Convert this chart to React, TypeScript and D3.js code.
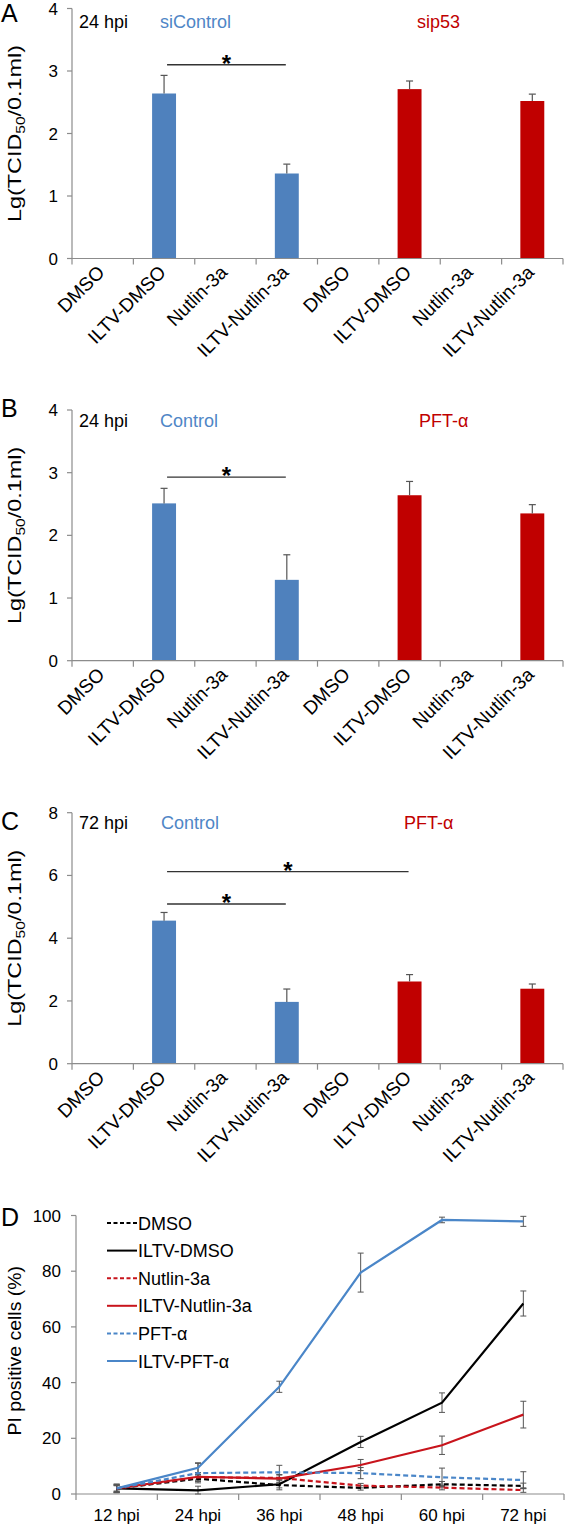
import React from "react";
import * as d3 from "d3";

// ---------- data ----------
const barCategories = [
  "DMSO", "ILTV-DMSO", "Nutlin-3a", "ILTV-Nutlin-3a",
  "DMSO", "ILTV-DMSO", "Nutlin-3a", "ILTV-Nutlin-3a",
];
const barGroup = [0, 0, 0, 0, 1, 1, 1, 1];

const panelAValues = [0, 2.64, 0, 1.36, 0, 2.71, 0, 2.52];
const panelAErrors = [0, 0.29, 0, 0.15, 0, 0.13, 0, 0.11];
const panelBValues = [0, 2.51, 0, 1.29, 0, 2.64, 0, 2.35];
const panelBErrors = [0, 0.24, 0, 0.4, 0, 0.22, 0, 0.14];
const panelCValues = [0, 4.56, 0, 1.97, 0, 2.62, 0, 2.39];
const panelCErrors = [0, 0.26, 0, 0.41, 0, 0.22, 0, 0.15];

const panelATicks = [0, 1, 2, 3, 4];
const panelBTicks = [0, 1, 2, 3, 4];
const panelCTicks = [0, 2, 4, 6, 8];

// significance brackets: [fromIndex, toIndex, yValue]
const panelASig = [[1, 3, 3.1]];
const panelBSig = [[1, 3, 2.93]];
const panelCSig = [[1, 5, 6.12], [1, 3, 5.09]];

const timepoints = ["12 hpi", "24 hpi", "36 hpi", "48 hpi", "60 hpi", "72 hpi"];
const lineSeriesNames = ["DMSO", "ILTV-DMSO", "Nutlin-3a", "ILTV-Nutlin-3a", "PFT-α", "ILTV-PFT-α"];
const dmsoValues = [2.0, 5.5, 3.2, 2.2, 3.5, 2.9];
const dmsoErrors = [1.0, 1.0, 1.0, 0.8, 1.0, 1.0];
const iltvDmsoValues = [2.0, 1.3, 3.5, 18.7, 32.8, 68.4];
const iltvDmsoErrors = [1.5, 1.5, 2.0, 2.0, 3.5, 4.5];
const nutlinValues = [2.0, 6.0, 5.8, 3.0, 2.3, 1.4];
const nutlinErrors = [1.0, 1.0, 1.0, 0.8, 0.8, 0.8];
const iltvNutlinValues = [2.0, 6.2, 5.5, 10.4, 17.5, 28.5];
const iltvNutlinErrors = [1.2, 1.5, 1.5, 2.0, 3.3, 4.8];
const pftValues = [2.0, 7.5, 7.8, 7.5, 6.0, 5.0];
const pftErrors = [1.5, 3.5, 2.5, 2.0, 3.3, 3.0];
const iltvPftValues = [2.0, 9.4, 38.5, 79.5, 98.4, 97.9];
const iltvPftErrors = [1.5, 1.8, 2.0, 7.0, 1.0, 1.8];
const lineTicks = [0, 20, 40, 60, 80, 100];

// ---------- styles ----------
const FONT = "'Liberation Sans', Arial, Helvetica, sans-serif";
const AXIS = "#8c8c8c";
const BLUE_BAR = "#4f81bd";
const RED_BAR = "#c00000";
const BLUE_TEXT = "#4f86c6";
const RED_TEXT = "#c00000";
const BLUE_LINE = "#4a86c8";
const RED_LINE = "#c8141c";
const ERR = "#555";

const X0 = 72;
const X1 = 563;

type BarPanelProps = {
  letter: string;
  letterY: number;
  hpi: string;
  groupLabels: [string, string];
  groupX: [number, number];
  values: number[];
  errors: number[];
  ticks: number[];
  sig: number[][];
  yTop: number;
  yBottom: number;
  textY: number;
};

function BarPanel(p: BarPanelProps) {
  const yMax = p.ticks[p.ticks.length - 1];
  const y = d3.scaleLinear().domain([0, yMax]).range([p.yBottom, p.yTop]);
  const x = d3
    .scaleBand<number>()
    .domain(barCategories.map((_, i) => i))
    .range([X0, X1])
    .paddingInner(0.61)
    .paddingOuter(0.305);
  const step = x.step();
  const bw = x.bandwidth();
  const cx = (i: number) => (x(i) as number) + bw / 2;
  const boundaries = d3.range(barCategories.length + 1).map((i) => X0 + i * step);
  const midY = (p.yTop + p.yBottom) / 2;
  return (
    <g>
      <text x={1} y={p.letterY} fontSize={25} fontFamily={FONT}>{p.letter}</text>
      <text
        transform={`translate(21,${midY}) rotate(-90) scale(1.3,1)`}
        textAnchor="middle"
        fontSize={18}
        fontFamily={FONT}
      >
        Lg(TCID
        <tspan fontSize={12} dy={4}>50</tspan>
        <tspan dy={-4}>/0.1ml)</tspan>
      </text>
      {/* y axis */}
      <line x1={X0} x2={X0} y1={p.yTop} y2={p.yBottom} stroke={AXIS} strokeWidth={1.2} />
      {p.ticks.map((t) => (
        <g key={t}>
          <line x1={X0 - 5} x2={X0} y1={y(t)} y2={y(t)} stroke={AXIS} strokeWidth={1.2} />
          <text x={58} y={y(t) + 6} textAnchor="end" fontSize={17} fontFamily={FONT}>{t}</text>
        </g>
      ))}
      {/* bars */}
      {p.values.map((v, i) =>
        v > 0 ? (
          <g key={i}>
            <rect
              x={x(i)}
              y={y(v)}
              width={bw}
              height={y(0) - y(v)}
              fill={barGroup[i] === 0 ? BLUE_BAR : RED_BAR}
            />
            <line x1={cx(i)} x2={cx(i)} y1={y(v)} y2={y(v + p.errors[i])} stroke={ERR} strokeWidth={1.2} />
            <line x1={cx(i) - 3.5} x2={cx(i) + 3.5} y1={y(v + p.errors[i])} y2={y(v + p.errors[i])} stroke={ERR} strokeWidth={1.2} />
          </g>
        ) : null
      )}
      {/* x axis */}
      <line x1={X0} x2={X1} y1={p.yBottom} y2={p.yBottom} stroke={AXIS} strokeWidth={1.2} />
      {boundaries.map((b, i) => (
        <line key={i} x1={b} x2={b} y1={p.yBottom} y2={p.yBottom + 6} stroke={AXIS} strokeWidth={1.2} />
      ))}
      {barCategories.map((c, i) => (
        <text
          key={i}
          transform={`translate(${cx(i) + 3},${p.yBottom + 15}) rotate(-45)`}
          textAnchor="end"
          fontSize={19}
          fontFamily={FONT}
        >
          {c}
        </text>
      ))}
      {/* significance */}
      {p.sig.map(([a, b, v], k) => (
        <g key={k}>
          <line x1={cx(a) + 3} x2={cx(b) - 1} y1={y(v)} y2={y(v)} stroke="#333" strokeWidth={1.3} />
          <text
            x={(cx(a) + cx(b)) / 2 + 1}
            y={y(v) + 7}
            textAnchor="middle"
            fontSize={24}
            fontWeight="bold"
            fontFamily={FONT}
          >
            *
          </text>
        </g>
      ))}
      <text x={79} y={p.textY} fontSize={18} fontFamily={FONT}>{p.hpi}</text>
      <text x={p.groupX[0]} y={p.textY} fontSize={18} fontFamily={FONT} fill={BLUE_TEXT}>{p.groupLabels[0]}</text>
      <text x={p.groupX[1]} y={p.textY} fontSize={18} fontFamily={FONT} fill={RED_TEXT}>{p.groupLabels[1]}</text>
    </g>
  );
}

function LinePanel() {
  const LX0 = 76;
  const LX1 = 564;
  const yTop = 1215.5;
  const yBottom = 1494;
  const x = d3.scaleBand<string>().domain(timepoints).range([LX0, LX1]);
  const cx = (t: string) => (x(t) as number) + x.bandwidth() / 2;
  const y = d3.scaleLinear().domain([0, 100]).range([yBottom, yTop]);
  const series = [
    { name: lineSeriesNames[0], values: dmsoValues, errors: dmsoErrors, color: "#000", dash: "5,3" },
    { name: lineSeriesNames[1], values: iltvDmsoValues, errors: iltvDmsoErrors, color: "#000", dash: "" },
    { name: lineSeriesNames[2], values: nutlinValues, errors: nutlinErrors, color: RED_LINE, dash: "5,3" },
    { name: lineSeriesNames[3], values: iltvNutlinValues, errors: iltvNutlinErrors, color: RED_LINE, dash: "" },
    { name: lineSeriesNames[4], values: pftValues, errors: pftErrors, color: BLUE_LINE, dash: "5,3" },
    { name: lineSeriesNames[5], values: iltvPftValues, errors: iltvPftErrors, color: BLUE_LINE, dash: "" },
  ];
  const line = d3
    .line<number>()
    .x((_, i) => cx(timepoints[i]))
    .y((v) => y(v));
  const boundaries = d3.range(timepoints.length + 1).map((i) => LX0 + i * x.step());
  const legendY0 = 1223;
  const legendStep = 27.6;
  return (
    <g>
      <text x={1} y={yTop + 10} fontSize={25} fontFamily={FONT}>D</text>
      <text
        transform={`translate(21,${(yTop + yBottom) / 2 - 4}) rotate(-90) scale(1.08,1)`}
        textAnchor="middle"
        fontSize={18}
        fontFamily={FONT}
      >
        PI positive cells (%)
      </text>
      <line x1={LX0} x2={LX0} y1={yTop} y2={yBottom} stroke={AXIS} strokeWidth={1.2} />
      {lineTicks.map((t) => (
        <g key={t}>
          <line x1={LX0 - 5} x2={LX0} y1={y(t)} y2={y(t)} stroke={AXIS} strokeWidth={1.2} />
          <text x={61} y={y(t) + 6} textAnchor="end" fontSize={17} fontFamily={FONT}>{t}</text>
        </g>
      ))}
      <line x1={LX0} x2={LX1} y1={yBottom} y2={yBottom} stroke={AXIS} strokeWidth={1.2} />
      {boundaries.map((b, i) => (
        <line key={i} x1={b} x2={b} y1={yBottom} y2={yBottom + 6} stroke={AXIS} strokeWidth={1.2} />
      ))}
      {timepoints.map((t) => (
        <text key={t} x={cx(t)} y={yBottom + 27} textAnchor="middle" fontSize={17} fontFamily={FONT}>{t}</text>
      ))}
      {series.map((s) => (
        <g key={s.name}>
          {s.values.map((v, i) => {
            const xx = cx(timepoints[i]);
            const lo = y(Math.max(0, v - s.errors[i]));
            const hi = y(v + s.errors[i]);
            return (
              <g key={i}>
                <line x1={xx} x2={xx} y1={lo} y2={hi} stroke={ERR} strokeWidth={1} />
                <line x1={xx - 3} x2={xx + 3} y1={lo} y2={lo} stroke={ERR} strokeWidth={1} />
                <line x1={xx - 3} x2={xx + 3} y1={hi} y2={hi} stroke={ERR} strokeWidth={1} />
              </g>
            );
          })}
        </g>
      ))}
      {series.map((s) => (
        <path
          key={s.name}
          d={line(s.values) as string}
          fill="none"
          stroke={s.color}
          strokeWidth={2.2}
          strokeDasharray={s.dash || undefined}
        />
      ))}
      {series.map((s, i) => (
        <g key={s.name}>
          <line
            x1={107}
            x2={137}
            y1={legendY0 + i * legendStep}
            y2={legendY0 + i * legendStep}
            stroke={s.color}
            strokeWidth={2}
            strokeDasharray={s.dash ? "4,2.5" : undefined}
          />
          <text x={138} y={legendY0 + i * legendStep + 6.5} fontSize={18} fontFamily={FONT}>{s.name}</text>
        </g>
      ))}
    </g>
  );
}

export default function App() {
  return (
    <svg
      width={566}
      height={1526}
      viewBox="0 0 566 1526"
      style={{ position: "absolute", left: 0, top: 0, background: "#fff" }}
    >
      <rect x={0} y={0} width={566} height={1526} fill="#fff" />
      <BarPanel
        letter="A"
        letterY={22}
        hpi="24 hpi"
        groupLabels={["siControl", "sip53"]}
        groupX={[160, 417]}
        values={panelAValues}
        errors={panelAErrors}
        ticks={panelATicks}
        sig={panelASig}
        yTop={8.5}
        yBottom={258.5}
        textY={28}
      />
      <BarPanel
        letter="B"
        letterY={417}
        hpi="24 hpi"
        groupLabels={["Control", "PFT-α"]}
        groupX={[160, 419]}
        values={panelBValues}
        errors={panelBErrors}
        ticks={panelBTicks}
        sig={panelBSig}
        yTop={410}
        yBottom={660.7}
        textY={427}
      />
      <BarPanel
        letter="C"
        letterY={830}
        hpi="72 hpi"
        groupLabels={["Control", "PFT-α"]}
        groupX={[161, 404]}
        values={panelCValues}
        errors={panelCErrors}
        ticks={panelCTicks}
        sig={panelCSig}
        yTop={812.7}
        yBottom={1063.7}
        textY={829}
      />
      <LinePanel />
    </svg>
  );
}
